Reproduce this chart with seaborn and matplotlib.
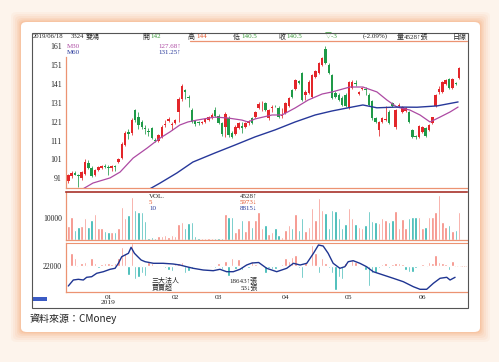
import numpy as np
import pandas as pd
import matplotlib
matplotlib.use("Agg")
import matplotlib.pyplot as plt
import seaborn as sns
from matplotlib.patches import FancyBboxPatch, Rectangle
from matplotlib.lines import Line2D

# ---------------- data ----------------
opens = [89.5, 92, 94, 92.5, 91, 93.5, 99, 96.5, 92.5, 95.5,
         96.5, 97.5, 97, 96.5, 97.5, 99.5, 101.5, 108.5, 115.5, 115,
         127, 123.5, 121, 117.5, 116, 117.5, 111.5, 110.5, 113, 119,
         121.5, 119, 120, 126, 133, 137.5, 134, 127, 121.5, 121,
         120, 121, 122, 123, 127, 124, 120.5, 118, 123, 115,
         114.5, 117.5, 118.5, 118, 120.5, 123, 123.5, 128, 129, 131,
         123, 128, 129.5, 128, 124, 125.5, 129, 137.5, 138, 142.5,
         146.5, 135, 136, 134, 144.5, 146.5, 151, 159.5, 151, 145.5,
         136, 135, 133.5, 135, 128, 139, 141.5, 135.5, 138, 138,
         135, 132, 123, 116.5, 121, 122, 126, 131, 118, 129.5,
         126, 126.5, 126, 116.5, 113.5, 113, 115.5, 117.5, 116.5, 120,
         129, 136.5, 136.5, 141, 143.5, 139, 141.5, 144]
highs = [93.5, 95, 95, 93.5, 95, 101, 100.5, 97.5, 96, 97.5,
         98, 98.5, 98, 98, 98, 102, 110, 116, 117, 123,
         127.5, 126, 122, 119, 117.5, 118, 112.5, 114.5, 119, 122,
         123.5, 121, 122.5, 134, 141, 138.5, 135, 128, 122, 121.5,
         121.5, 123, 124, 125.5, 128.5, 125, 121, 126, 124, 116,
         119, 121, 121, 121, 122, 123.5, 126.5, 131.5, 132, 131.5,
         127.5, 130, 130, 129, 128, 131.5, 134, 138, 143.5, 143,
         147, 137.5, 143, 146, 148.5, 152.5, 155, 161, 152, 146,
         137, 136, 134.5, 136, 142.5, 143, 143, 137, 139.5, 139.5,
         136, 132.5, 123.5, 121.5, 123.5, 129, 127, 131.5, 127.5, 131,
         129, 128.5, 126.5, 117, 114, 119, 118.5, 118, 119.5, 123.5,
         135.5, 140, 142.5, 143.5, 144, 144, 142, 150]
lows = [88.5, 91, 92.5, 86.5, 90, 93, 96, 91.5, 92, 95,
        96, 96.5, 93, 95, 95, 99, 101, 108, 112, 114,
        121, 117, 117, 114.5, 113.5, 112, 110, 110, 112.5, 118,
        121, 116.5, 119.5, 121, 132, 133, 128.5, 120, 118.5, 119,
        119.5, 120.5, 121.5, 122.5, 123.5, 119.5, 113.5, 113, 113, 112.5,
        114, 117, 115, 117.5, 119, 119.5, 123, 127.5, 126.5, 126.5,
        122, 126, 128.5, 123, 123, 125, 128.5, 133.5, 137.5, 141,
        132, 132.5, 135.5, 133.5, 144, 146, 150.5, 151.5, 146, 133,
        133.5, 132, 129.5, 128.5, 127.5, 138.5, 140, 135, 137.5, 135,
        129, 122, 120.5, 113.5, 120.5, 121.5, 119.5, 128.5, 117, 128.5,
        125.5, 126, 120.5, 112.5, 112, 112.5, 115, 113, 116, 119.5,
        128.5, 135.5, 136, 140.5, 138.5, 138.5, 140.5, 143.5]
closes = [92.5, 94, 93, 92, 94.5, 99.5, 96.5, 92, 95.5, 97,
          97.5, 97, 96.5, 97.5, 97, 101, 109, 115, 114.5, 122,
          122, 119, 118, 117, 115.5, 112.5, 110.5, 114, 118, 119.5,
          122.5, 119.5, 122, 133, 140, 136.5, 133.5, 121, 119.5, 120,
          121, 122.5, 123.5, 124.5, 124, 120.5, 114.5, 125, 114, 113,
          118, 120, 117.5, 120, 121.5, 120, 126, 130.5, 129.5, 127,
          127, 128.5, 129, 123.5, 124.5, 131, 133.5, 134, 143, 141.5,
          132.5, 136.5, 142, 145.5, 148, 152, 154.5, 152, 146.5, 133.5,
          134, 132.5, 130, 129, 142, 142, 141, 136.5, 139, 137.5,
          130, 123, 121, 121, 123, 122.5, 120, 129, 127, 130,
          128.5, 128, 121, 113, 113, 118.5, 118, 113.5, 119, 123.5,
          135, 138, 142, 143, 139, 143.5, 141, 149.5]
volumes = [6500, 10600, 4500, 6100, 6500, 9800, 6100, 9100, 11700, 5600,
           5600, 4100, 3800, 3500, 3800, 5600, 15200, 9800, 11400, 19700,
           13600, 12900, 12600, 8600, 1100, 1500, 1100, 2000, 2000, 2300,
           1500, 2300, 2000, 7100, 8000, 5300, 7600, 8300, 2000, 800,
           800, 800, 1100, 800, 1100, 1100, 1100, 11700, 10600, 10600,
           3800, 5300, 9100, 4100, 9100, 6100, 9100, 12900, 5300, 6800,
           2600, 3500, 5600, 2300, 1500, 4500, 6800, 5600, 11700, 4500,
           10200, 4100, 5800, 14700, 9100, 19200, 13600, 12100, 5300, 13600,
           13200, 9800, 5600, 7100, 14700, 10200, 7100, 6100, 5300, 6800,
           13200, 8600, 8300, 7900, 10200, 9100, 8300, 9100, 13200, 5600,
           9500, 5600, 10200, 10600, 10500, 10500, 5300, 6100, 10600, 10600,
           12900, 20500, 8300, 6100, 6800, 4100, 4500, 12900]
ma30_pos = [4, 7.4, 12.5, 15.5, 19.4, 23.6, 27.5, 30.4, 33.4, 35.8, 38.5, 43.9,
            47.8, 52, 53.8, 55.9, 61, 64, 67.9, 71.8, 76, 79, 84.3, 88.2,
            92.4, 95.4, 98.4, 102.3, 105.3, 108.3, 111.3, 114.3, 116.7]
ma30_val = [85.0, 88.5, 91.2, 94.3, 101.7, 107.0, 112.3, 115.5, 119.2, 120.8, 121.8, 123.4,
            122.9, 121.8, 120.8, 122.4, 124.5, 124.5, 128.2, 132.4, 135.6, 136.7, 139.3, 139.3,
            136.7, 132.4, 128.7, 127.1, 124.5, 120.8, 123.4, 126.1, 128.7]
ma60_pos = [23.5, 27.5, 32.5, 37.3, 43.9, 49.9, 55.9, 61.9, 67.9, 73.9, 78.9,
            83.5, 88.2, 92.4, 98.4, 104.4, 110.4, 116.7]
ma60_val = [84.5, 88.5, 93.8, 99.6, 104.4, 108.6, 112.9, 116.6, 120.8, 124.5, 126.6,
            128.2, 129.8, 128.3, 128.7, 128.6, 129.3, 131.4]
inst_net = [0.5, 13.3, 7.7, 0.5, 3.3, 4.3, 1, 7.7, 2.7, -1.5,
            2, 3.3, 2.7, 2, 2.7, 7.7, 19.3, 12.7, -9, 22.7,
            -13.3, -10.7, -7.3, -10, 4.3, 2.7, 0.5, -1, 0.5, -2.3,
            -4, -4.7, 2, 3.3, 4.3, -7.3, -4.7, -3, -1, 1,
            -1, 1, -1, 0.5, -1.5, 2.7, -3.3, 5.3, -10, 7.7,
            -3, 6.7, -4, 1, -2, 5.3, 2, 1, -1, -7.3,
            -2, -3, -3.3, -1, 2, 7.7, 5, 9.3, 11, -2.3,
            -12.3, 4.3, 1, 21, 12.7, -6.7, 7.7, 3.3, -2.3, -7.3,
            -24, -10.7, -13.3, 2.7, 1, 6, 4.3, -1.3, -1, -4,
            -20, -7.3, -6.7, -2, 2, 2.7, -2.3, 2, 3.3, 2.7,
            2, -4, -5.7, -5.7, -2.3, -0.5, 2, 0.5, 4.3, 2.7,
            11, 4.3, 3.3, 2, -4, 5.3, 0, 0]
cum_pos = [0, 1.5, 3, 4.5, 5.5, 7, 8.5, 10.5, 12.5, 14, 15, 16, 17, 18, 18.8, 19.8,
           20.8, 21.8, 23, 25.5, 28.4, 31.4, 33.4, 35.4, 37.4, 40.4, 43.4, 45.4,
           47.4, 49.4, 51.4, 53.4, 55, 57, 59.4, 62.4, 65.4, 67.4, 69.4, 71.4,
           73.4, 74.9, 76.3, 77.8, 79.3, 81.3, 82.8, 83.8, 85.3, 87.3, 89.3,
           91.3, 94.3, 97.3, 100.3, 103.3, 105.3, 107.3, 109.3, 111.3, 113.3,
           114.3, 115.8]
cum_val = [-20, -14, -13.3, -14, -11.3, -10.7, -7.3, -5.7, -3.3, -2.3, 2.7, 9.3, 11, 12.7, 18.7, 12.7,
           9.3, 6, 4.3, 2.7, 2.7, 2, 1, -0.7, -2.3, -4, -4.7, -3.3,
           -5.7, -5.7, -3.3, 1, 3, 3.5, -2.3, -5.7, -2.3, 2.7, 1, 2.7,
           12.7, 21, 20, 12.7, 2.7, -2.3, -0.7, 4.3, 5.3, 2.7, -0.7,
           -5.7, -9, -12.3, -15.7, -20.7, -23.3, -23.3, -17.3, -12.3, -11.3,
           -14, -11.3]
price_ticks = [161, 151, 141, 131, 121, 111, 101, 91]
month_pos = [12, 32, 45, 65, 84, 106]
month_labels = ["01\n2019", "02", "03", "04", "05", "06"]

# ---------------- style ----------------
sns.set_style("white")
plt.rcParams['font.family'] = ['Liberation Serif', 'Noto Sans CJK TC', 'DejaVu Sans']

W, H = 499, 362
RED, GREEN = '#e3262a', '#1f9a48'
SALMON, TEAL = '#f4867c', '#2bb3ad'
PURPLE, BLUE = '#ad4aa3', '#27389a'
ORANGE = '#ec9372'
CJK = ['Noto Sans CJK TC', 'DejaVu Sans']
SER = ['Liberation Serif', 'Noto Sans CJK TC', 'DejaVu Sans']

fig = plt.figure(figsize=(W / 100, H / 100), dpi=100)
fig.patch.set_facecolor('#fdf4ec')

def fx(x):
    return x / W

def fy(y):
    return 1 - y / H

def ftxt(x, y, s, **kw):
    kw.setdefault('va', 'center')
    kw.setdefault('fontsize', 5.0)
    fig.text(fx(x), fy(y), s, **kw)

# card glow + card
for k, a in [(10, 0.08), (8, 0.10), (6, 0.13), (4, 0.17), (2.5, 0.22), (1.2, 0.3)]:
    fig.patches.append(FancyBboxPatch((fx(21 - k), fy(332 + k)), (459 + 2 * k) / W, (310 + 2 * k) / H,
                                      boxstyle='round,pad=0,rounding_size=0.012',
                                      transform=fig.transFigure, facecolor='#f6b184',
                                      alpha=a, edgecolor='none', zorder=-5))
fig.patches.append(FancyBboxPatch((fx(21), fy(332)), 459 / W, 310 / H,
                                  boxstyle='round,pad=0,rounding_size=0.012',
                                  transform=fig.transFigure, facecolor='white',
                                  edgecolor='none', zorder=-4))
# chart frame
fig.patches.append(Rectangle((fx(32), fy(308)), 436 / W, 275.5 / H, transform=fig.transFigure,
                             facecolor='none', edgecolor='#555555', lw=0.8, zorder=1))
fig.lines.append(Line2D([fx(190), fx(467)], [fy(41), fy(41)], transform=fig.transFigure,
                        color=ORANGE, lw=0.9))
fig.patches.append(Rectangle((fx(32.5), fy(301)), 14 / W, 4 / H, transform=fig.transFigure,
                             facecolor='#3b5bc4', edgecolor='none', zorder=2))

# header
ftxt(32.5, 36.5, "2019/06/18", family=SER, fontsize=4.9)
ftxt(70.5, 36.5, "3324", family=SER, fontsize=4.9)
ftxt(86, 36.5, "雙鴻", family=CJK, fontsize=5.0)
ftxt(142.5, 36.5, "開", family=CJK)
ftxt(150, 36.5, "142", family=SER, color='#3c9a3c')
ftxt(188, 36.5, "高", family=CJK)
ftxt(196, 36.5, "144", family=SER, color='#e2552c')
ftxt(233, 36.5, "低", family=CJK)
ftxt(241, 36.5, "140.5", family=SER, color='#3c9a3c')
ftxt(279, 36.5, "收", family=CJK)
ftxt(286.5, 36.5, "140.5", family=SER, color='#3c9a3c')
ftxt(325, 36.5, "▽-3", family=SER, color='#3c9a3c')
ftxt(363, 36.5, "(-2.09%)", family=SER)
ftxt(397, 36.5, "量", family=CJK)
ftxt(404, 36.5, "4528↑張", family=SER)
ftxt(467, 36.5, "日線", family=CJK, ha='right')

# axes
XL = ((66 - 68.3) / 3.34, (467 - 68.3) / 3.34)
ax1 = fig.add_axes([fx(66), fy(188), (467 - 66) / W, (188 - 41) / H])
ax2 = fig.add_axes([fx(66), fy(240), (467 - 66) / W, (240 - 192) / H])
ax3 = fig.add_axes([fx(66), fy(292), (467 - 66) / W, (292 - 243) / H])

# candles
n = len(opens)
idx = np.arange(n)
for i in range(n):
    o, h, l, c = opens[i], highs[i], lows[i], closes[i]
    col = RED if c >= o else GREEN
    ax1.vlines(i, l, h, color=col, lw=0.55, zorder=2)
    body = max(abs(c - o), 0.35)
    ax1.bar(i, body, bottom=min(o, c), width=0.74, color=col, edgecolor='none', zorder=3)
sns.lineplot(x=ma30_pos, y=ma30_val, ax=ax1, color=PURPLE, lw=0.9, zorder=4)
sns.lineplot(x=ma60_pos, y=ma60_val, ax=ax1, color=BLUE, lw=1.0, zorder=4)
ax1.set_ylim(161 - (188 - 46) / 1.89, 161 + (46 - 41) / 1.89)

# volume
direction = ['up' if closes[i] >= opens[i] else 'down' for i in range(n)]
vdf = pd.DataFrame({'i': idx, 'vol': volumes, 'dir': direction})
sns.barplot(data=vdf, x='i', y='vol', hue='dir', palette={'up': SALMON, 'down': TEAL},
            dodge=False, width=0.74, legend=False, errorbar=None, saturation=1, ax=ax2)
ax2.set_ylim(0, 48 / 22 * 10000)

# institutional
idf = pd.DataFrame({'i': idx, 'net': inst_net,
                    'dir': ['up' if v >= 0 else 'down' for v in inst_net]})
sns.barplot(data=idf, x='i', y='net', hue='dir', palette={'up': SALMON, 'down': TEAL},
            dodge=False, width=0.74, legend=False, errorbar=None, saturation=1, ax=ax3)
ax3.axhline(0, color='#f2a99a', lw=0.5, ls=(0, (1, 1.5)), zorder=0)
sns.lineplot(x=cum_pos, y=cum_val, ax=ax3, color='#1f3592', lw=1.0, zorder=4)
ax3.set_ylim(-26, 23)

for ax in (ax1, ax2, ax3):
    ax.set_facecolor('none')
    ax.set_xlim(*XL)
    ax.set_xlabel('')
    ax.set_ylabel('')
    for s in ('top', 'right'):
        ax.spines[s].set_visible(False)
    for s in ('left', 'bottom'):
        ax.spines[s].set_color(ORANGE)
        ax.spines[s].set_linewidth(0.9)
    ax.set_xticks(month_pos)
    ax.tick_params(axis='x', direction='in', length=2, width=0.6, color=ORANGE)
    ax.tick_params(axis='y', length=0, pad=3, labelsize=5.6)
    ax.grid(False)

ax1.spines['left'].set_bounds(161 - (188 - 46) / 1.89, 161 - (57 - 46) / 1.89)
ax1.set_yticks(price_ticks)
ax1.set_yticklabels([str(t) for t in price_ticks])
ax1.set_xticklabels([])
ax2.spines['top'].set_visible(True)
ax2.spines['top'].set_color('#a8322a')
ax2.spines['top'].set_linewidth(1.2)
ax2.set_yticks([10000])
ax2.set_yticklabels(['10000'])
ax2.set_xticklabels([])
ax3.spines['top'].set_visible(True)
ax3.spines['top'].set_color(ORANGE)
ax3.set_yticks([0])
ax3.set_yticklabels(['22000'])
ax3.set_xticklabels(month_labels, fontsize=5.4, linespacing=1.15)
ax3.tick_params(axis='x', pad=2)

# legends / annotations
ftxt(67, 46, "M30", color=PURPLE)
ftxt(67, 52, "M60", color=BLUE)
ftxt(181, 46, "127.68↑", color=PURPLE, ha='right')
ftxt(181, 52, "131.25↑", color=BLUE, ha='right')
ftxt(149, 196.5, "VOL.")
ftxt(149, 202.5, "5", color='#e2552c')
ftxt(149, 208.5, "10", color=BLUE)
ftxt(257, 196.5, "4528↑", ha='right')
ftxt(257, 202.5, "5973↓", color='#e2552c', ha='right')
ftxt(257, 208.5, "8815↓", color=BLUE, ha='right')
ftxt(152, 280.5, "三大法人", family=CJK)
ftxt(152, 287, "買賣超", family=CJK)
ftxt(258, 280.5, "18643↑張", ha='right')
ftxt(258, 287, "53↓張", ha='right')

ftxt(30, 318.5, "資料來源：CMoney", family=CJK, fontsize=7.2, color='#222222')

fig.savefig("out.png", dpi=100, facecolor=fig.get_facecolor())
